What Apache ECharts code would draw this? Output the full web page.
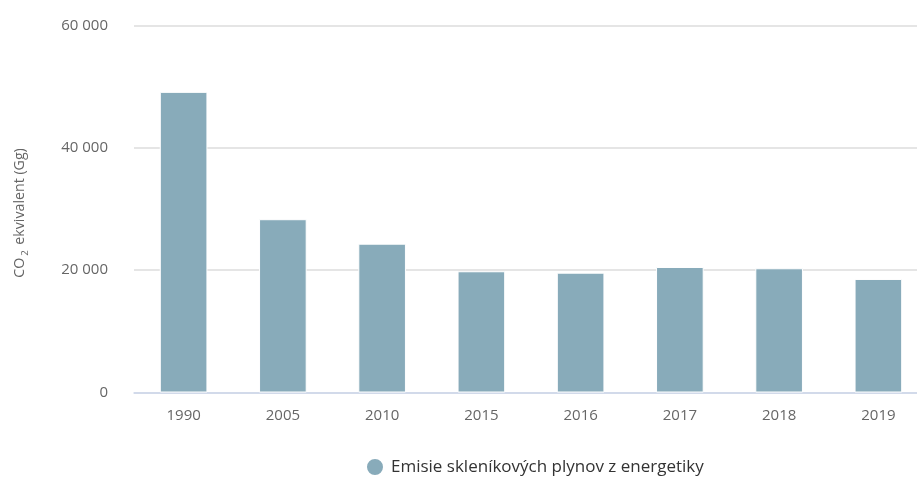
<!DOCTYPE html>
<html>
<head>
<meta charset="utf-8">
<script src="https://cdn.jsdelivr.net/npm/echarts@6/dist/echarts.min.js"></script>
<style>
  html, body { margin: 0; padding: 0; background: #fff; }
  #chart { width: 917px; height: 478px; }
</style>
</head>
<body>
<div id="chart"></div>
<script>
// Greenhouse gas emissions from the energy sector (CO2 equivalent, Gg)
const years = ['1990', '2005', '2010', '2015', '2016', '2017', '2018', '2019'];
const emissions = [49150, 28330, 24330, 19820, 19590, 20520, 20310, 18560];
const seriesName = 'Emisie skleníkových plynov z energetiky';
const yTicks = [0, 20000, 40000, 60000];

const fontFamily = '"Open Sans", "Noto Sans", sans-serif';
const chart = echarts.init(document.getElementById('chart'), null, { renderer: 'canvas' });

chart.setOption({
  animation: false,
  textStyle: { fontFamily: fontFamily },
  grid: {
    left: 134, top: 25.5, width: 794, height: 367,
    containLabel: false, outerBoundsMode: 'none'
  },
  legend: {
    data: [seriesName],
    left: 365,
    top: 457,
    padding: 0,
    icon: 'circle',
    itemWidth: 18,
    itemHeight: 18,
    itemGap: 12,
    textStyle: { color: '#333', fontSize: 17, fontFamily: fontFamily, padding: [0, 0, 0, 2] }
  },
  xAxis: {
    type: 'category',
    data: years,
    axisLine: { lineStyle: { color: '#ccd6eb', width: 1.5 } },
    axisTick: { show: false },
    axisLabel: { color: '#666', fontSize: 15, margin: 16 }
  },
  yAxis: {
    type: 'value',
    min: yTicks[0],
    max: yTicks[yTicks.length - 1],
    interval: 20000,
    name: '{a|CO}{s|2}{a| ekvivalent (Gg)}',
    nameLocation: 'middle',
    nameGap: 104,
    nameRotate: 90,
    nameTextStyle: {
      padding: [0, 8, 0, 0],
      rich: {
        a: { color: '#666', fontSize: 14.2, fontFamily: fontFamily },
        s: { color: '#666', fontSize: 9.5, fontFamily: fontFamily, padding: [10, 2, 0, 2] }
      }
    },
    axisLine: { show: false },
    axisTick: { show: false },
    splitLine: { lineStyle: { color: '#dcdcdc', width: 1.5 } },
    axisLabel: {
      color: '#666',
      fontSize: 15,
      margin: 26,
      formatter: v => String(v).replace(/\B(?=(\d{3})+(?!\d))/g, ' ')
    }
  },
  series: [{
    name: seriesName,
    type: 'bar',
    data: emissions,
    barWidth: '48%',
    itemStyle: { color: '#88abba', borderColor: '#fff', borderWidth: 1 }
  }]
});
</script>
</body>
</html>
